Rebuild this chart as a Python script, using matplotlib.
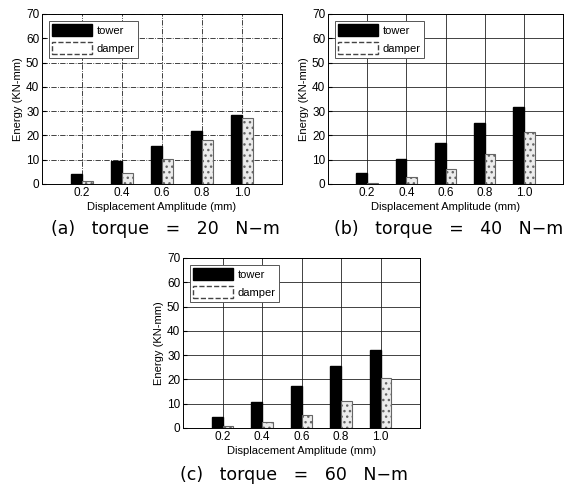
import numpy as np
import matplotlib.pyplot as plt
from matplotlib.patches import Patch

# displacement amplitude (mm)
amplitude = [0.2, 0.4, 0.6, 0.8, 1.0]

# energy (KN-mm)
tower_20 = [4.0, 9.3, 15.6, 22.0, 28.6]
damper_20 = [1.3, 4.6, 10.1, 18.2, 27.0]
tower_40 = [4.6, 10.5, 17.0, 25.1, 31.7]
damper_40 = [0.5, 2.7, 6.2, 12.4, 21.5]
tower_60 = [4.7, 10.8, 17.3, 25.4, 32.3]
damper_60 = [0.9, 2.4, 5.4, 11.3, 20.5]

captions = ["(a)   torque   =   20   N\u2212m",
            "(b)   torque   =   40   N\u2212m",
            "(c)   torque   =   60   N\u2212m"]

plt.rcParams['font.family'] = ['Liberation Sans', 'DejaVu Sans']

fig = plt.figure(figsize=(5.65, 4.95), dpi=100)

W, H = 565.0, 495.0
boxes = [(42, 282, 14, 184), (328, 563, 14, 184), (183, 420, 258, 428)]
cap_pos = [(165, 229), (449, 229), (294, 475)]
data = [(tower_20, damper_20), (tower_40, damper_40), (tower_60, damper_60)]
grid_style = ['-.', '-', '-']

bw = 0.055
x = np.array(amplitude)

for i in range(3):
    l, r, t, b = boxes[i]
    ax = fig.add_axes([l / W, (H - b) / H, (r - l) / W, (b - t) / H])
    tower, damper = data[i]
    ax.bar(x - bw / 2, tower, bw, color='black', edgecolor='black', zorder=3)
    ax.bar(x + bw / 2, damper, bw, color='#ececec', edgecolor='#666666',
           linewidth=0.8, hatch='...', zorder=3)
    ax.set_xlim(0, 1.2)
    ax.set_ylim(0, 70)
    ax.set_xticks(amplitude)
    ax.set_xticklabels(['%.1f' % v for v in amplitude])
    ax.set_yticks(range(0, 71, 10))
    ax.grid(True, color='#222222', linestyle=grid_style[i], linewidth=0.6, zorder=0)
    ax.tick_params(labelsize=8.5, direction='in', length=3, pad=2)
    for s in ax.spines.values():
        s.set_linewidth(0.7)
    ax.set_xlabel('Displacement Amplitude (mm)', fontsize=8, labelpad=2)
    ax.set_ylabel('Energy (KN-mm)', fontsize=8, labelpad=2)

    handles = [Patch(facecolor='black', edgecolor='black', label='tower'),
               Patch(facecolor='white', edgecolor='#444444', linestyle='--', label='damper')]
    leg = ax.legend(handles=handles, loc='upper left', fontsize=8,
                    handlelength=3.6, handleheight=1.3, borderpad=0.3,
                    labelspacing=0.55, handletextpad=0.4, fancybox=False,
                    framealpha=1, edgecolor='#555555', borderaxespad=0.6)
    leg.get_frame().set_linewidth(0.7)

    cx, cy = cap_pos[i]
    fig.text(cx / W, (H - cy) / H, captions[i], fontsize=12.5,
             ha='center', va='center', family=['DejaVu Sans'])

fig.savefig('out.png', dpi=100)
